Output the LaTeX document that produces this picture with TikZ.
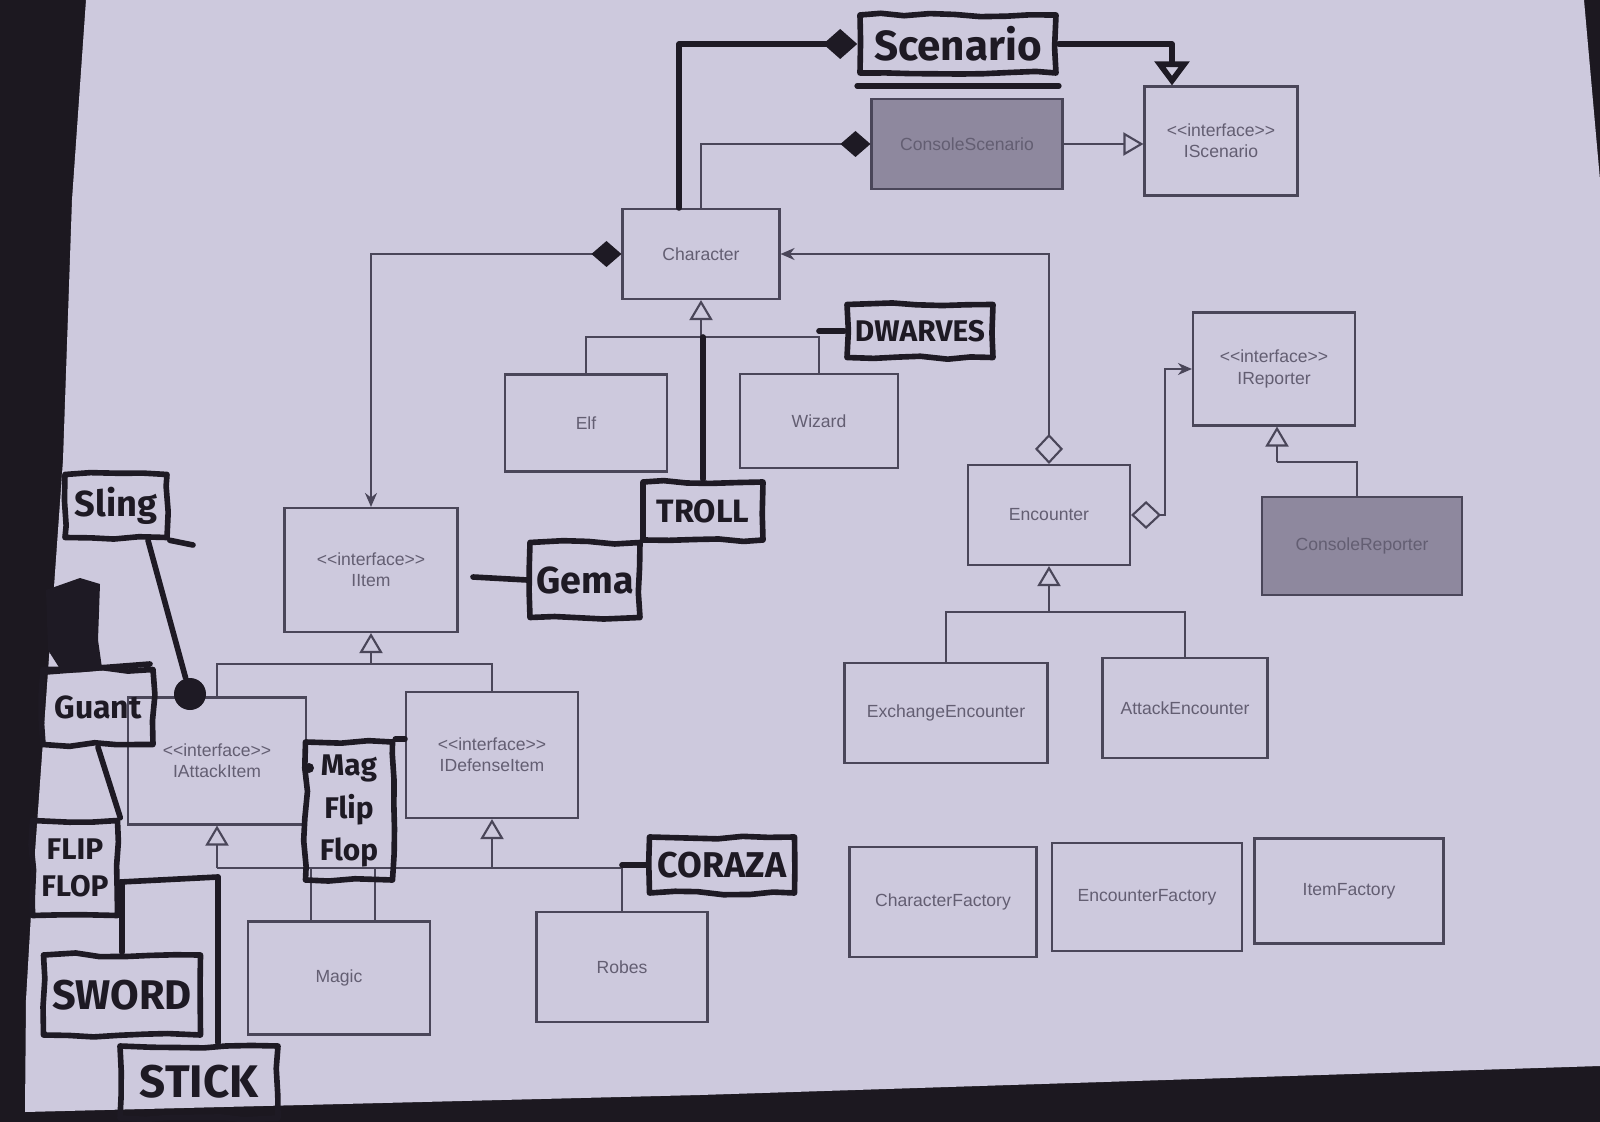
\documentclass[tikz,border=0pt]{standalone}
\usepackage{fontspec}
\setmainfont{Liberation Sans}
\newfontfamily\handfont{Fira Sans}
\usetikzlibrary{arrows.meta}
\usetikzlibrary{decorations.pathmorphing}

\definecolor{desk}{HTML}{1C1820}
\definecolor{paper}{HTML}{CDC9DD}
\definecolor{boxline}{HTML}{4A4659}
\definecolor{typed}{HTML}{635E72}
\definecolor{consolefill}{HTML}{8E889E}
\definecolor{inkcol}{HTML}{1E1A24}

\tikzset{
  umlbox/.style={draw=boxline, line width=0.6pt, text=typed, inner sep=0pt,
    align=center, font=\fontsize{5}{6}\selectfont},
  inkbox/.style={draw=inkcol, line width=1.6pt, text=inkcol, inner sep=0pt,
    align=center, line join=round, decorate,
    decoration={random steps, segment length=2.5mm, amplitude=0.2mm}},
  handtext/.style={font=\handfont\bfseries\fontsize{#1}{#1}\selectfont},
  inkline/.style={draw=inkcol, line width=1.6pt, line cap=round, line join=round},
  inkdot/.style={circle, fill=inkcol, inner sep=0pt},
  umlline/.style={draw=boxline, line width=0.6pt},
  generalization/.style={umlline, -{Triangle[open, length=2mm, width=2.3mm]}},
  composition/.style={umlline, {Diamond[length=3mm, width=2.6mm, color=inkcol]}-},
  compositionnav/.style={umlline, {Diamond[length=3mm, width=2.6mm, color=inkcol]}-{Stealth[length=1.4mm, width=1.2mm]}},
  aggregationnav/.style={umlline, {Diamond[open, length=3mm, width=2.8mm]}-{Stealth[length=1.4mm, width=1.2mm]}},
}

\begin{document}
\pgfmathsetseed{11}
\begin{tikzpicture}[x=0.1mm, y=-0.1mm]
    % photo: desk and sheet
    \useasboundingbox (0,0) rectangle (1600,1122);
    \fill[desk] (0,0) rectangle (1600,1122);
    \fill[paper] (86,0) -- (1584,0) -- (1600,180) -- (1600,1066) -- (700,1095)
      -- (25,1112) -- (26,1000) -- (33,880) -- (46,700) -- (63,460) -- (72,200) -- cycle;

    % printed classes
    \node[umlbox, minimum width=19.1mm, minimum height=9mm, fill=consolefill] (consolescenario) at (967,144) {ConsoleScenario};
    \node[umlbox, minimum width=15.3mm, minimum height=10.9mm] (iscenario) at (1221,141) {{<}{<}interface{>}{>}\\IScenario};
    \node[umlbox, minimum width=15.7mm, minimum height=9mm] (character) at (701,254) {Character};
    \node[umlbox, minimum width=16.2mm, minimum height=9.7mm] (elf) at (586,423) {Elf};
    \node[umlbox, minimum width=15.8mm, minimum height=9.4mm] (wizard) at (819,421) {Wizard};
    \node[umlbox, minimum width=17.3mm, minimum height=12.4mm] (iitem) at (371,570) {{<}{<}interface{>}{>}\\IItem};
    \node[umlbox, minimum width=17.8mm, minimum height=12.7mm] (iattackitem) at (217,761) {{<}{<}interface{>}{>}\\IAttackItem};
    \node[umlbox, minimum width=17.2mm, minimum height=12.6mm] (idefenseitem) at (492,755) {{<}{<}interface{>}{>}\\IDefenseItem};
    \node[umlbox, minimum width=18.2mm, minimum height=11.3mm] (magic) at (339,978) {Magic};
    \node[umlbox, minimum width=17.1mm, minimum height=11mm] (robes) at (622,967) {Robes};
    \node[umlbox, minimum width=16.2mm, minimum height=10mm] (encounter) at (1049,515) {Encounter};
    \node[umlbox, minimum width=16.2mm, minimum height=11.3mm] (ireporter) at (1274,369) {{<}{<}interface{>}{>}\\IReporter};
    \node[umlbox, minimum width=20mm, minimum height=9.8mm, fill=consolefill] (consolereporter) at (1362,546) {ConsoleReporter};
    \node[umlbox, minimum width=20.3mm, minimum height=10mm] (exchangeencounter) at (946,713) {ExchangeEncounter};
    \node[umlbox, minimum width=16.5mm, minimum height=10mm] (attackencounter) at (1185,708) {AttackEncounter};
    \node[umlbox, minimum width=18.7mm, minimum height=11mm] (characterfactory) at (943,902) {CharacterFactory};
    \node[umlbox, minimum width=19mm, minimum height=10.8mm] (encounterfactory) at (1147,897) {EncounterFactory};
    \node[umlbox, minimum width=18.9mm, minimum height=10.5mm] (itemfactory) at (1349,891) {ItemFactory};

    % join points
    \coordinate (charjoin) at (701,337);
    \coordinate (itemjoin) at (371,664);
    \coordinate (encjoin) at (1049,612);
    \coordinate (reportjoin) at (1277,462);
    \coordinate (itembase) at (217,868);

    % printed connectors
    \draw[composition] (consolescenario.west) -| (character.north);
    \draw[generalization] (consolescenario.east) -- (consolescenario.east -| iscenario.west);
    \draw[compositionnav] (character.west) -| (iitem.north);
    \draw[aggregationnav] (encounter.north) |- (character.east);
    \draw[aggregationnav] (encounter.east) -- ++(34,0) |- (ireporter.west);
    \draw[umlline] ([xshift=-0.5mm]consolereporter.north) |- (reportjoin);
    \draw[generalization] (reportjoin) -- (reportjoin |- ireporter.south);
    \draw[umlline] (elf.north) |- (charjoin) -| (wizard.north);
    \draw[generalization] (charjoin) -- (character.south);
    \draw[umlline] (exchangeencounter.north) |- (encjoin) -| (attackencounter.north);
    \draw[generalization] (encjoin) -- (encounter.south);
    \draw[umlline] (iattackitem.north) |- (itemjoin) -| (idefenseitem.north);
    \draw[generalization] (itemjoin) -- (iitem.south);
    \draw[umlline] (itembase) -- (itembase -| robes.north) -- (robes.north);
    \draw[generalization] (itembase) -- (iattackitem.south);
    \draw[generalization] (itembase -| idefenseitem.south) -- (idefenseitem.south);
    \draw[umlline] ([xshift=-2.8mm]magic.north) -- ([xshift=-2.8mm]magic.north |- itembase);
    \draw[umlline] ([xshift=3.6mm]magic.north) -- ([xshift=3.6mm]magic.north |- itembase);

    % handwritten notes
    \node[inkbox, handtext=12, minimum width=19.6mm, minimum height=5.8mm] (scenario) at (958,44) {Scenario};
    \node[inkbox, handtext=8.5, minimum width=14.6mm, minimum height=5.3mm] (dwarves) at (920,331) {DWARVES};
    \node[inkbox, handtext=9.2, minimum width=12mm, minimum height=5.8mm] (troll) at (703,511) {TROLL};
    \node[inkbox, handtext=10.7, minimum width=11mm, minimum height=7.5mm] (gema) at (585,580) {Gema};
    \node[inkbox, handtext=10.3, minimum width=10.2mm, minimum height=6.3mm] (sling) at (116,506) {Sling};
    \node[inkbox, handtext=9.1, minimum width=11mm, minimum height=7.5mm] (guant) at (98,707) {Guant};
    \node[inkbox, font=\handfont\bfseries\fontsize{8.5}{10.5}\selectfont, minimum width=8.5mm, minimum height=9.5mm] (flipflop) at (75,868) {FLIP\\FLOP};
    \node[inkbox, handtext=11.8, minimum width=15.7mm, minimum height=8mm] (sword) at (122,995) {SWORD};
    \node[inkbox, handtext=13, minimum width=15.8mm, minimum height=7.2mm] (stick) at (199,1082) {STICK};
    \node[inkbox, font=\handfont\bfseries\fontsize{8.5}{12}\selectfont, minimum width=8.7mm, minimum height=13.8mm] (magflipflop) at (349,811) {Mag\\Flip\\Flop};
    \node[inkbox, handtext=10.2, minimum width=14.5mm, minimum height=5.6mm] (coraza) at (722,865) {CORAZA};
    \node[inkdot, minimum size=3.2mm] (slingdot) at (190,694) {};
    \node[inkdot, minimum size=1mm] (magdot) at (309,768) {};
    \coordinate (gemaend) at (473,577);
    \coordinate (slingtail) at (193,545);
    \coordinate (swordjoin) at (122,882);
    \coordinate (inkjoin) at (218,877);

    % blacked-out note
    \fill[inkcol] (46,590) -- (80,578) -- (100,584) -- (98,640) -- (102,668) -- (62,672) -- (48,650) -- cycle;
    \draw[inkline] (46,672) -- (150,664);

    % handwritten connectors
    \draw[inkline, {Diamond[length=3.4mm, width=3mm]}-] (scenario.west) -| ([xshift=-2.2mm]character.north);
    \draw[inkline, -{Triangle[open, length=2.4mm, width=3.4mm]}] (scenario.east) -| ([xshift=-4.9mm]iscenario.north);
    \draw[inkline] ([yshift=-1mm]scenario.south west) -- ([yshift=-1mm]scenario.south east);
    \draw[inkline] (troll.north) -- (troll.north |- charjoin);
    \draw[inkline] (dwarves.west) -- (dwarves.west -| wizard.north);
    \draw[inkline] (gema.west) -- (gemaend);
    \draw[inkline] ([xshift=3.2mm]sling.south) -- (slingdot);
    \draw[inkline] (sling.south east) -- (slingtail);
    \draw[inkline] (guant.south) -- (flipflop.north east);
    \draw[inkline] ([yshift=-1.4mm]flipflop.east) -- (inkjoin);
    \draw[inkline] (sword.north) -- (swordjoin);
    \draw[inkline] ([xshift=1.9mm]stick.north) -- (inkjoin);
    \draw[inkline] (coraza.west) -- (coraza.west -| robes.north);
    \draw[inkline] (magflipflop.north east) -- (magflipflop.north east -| idefenseitem.west);
\end{tikzpicture}
\end{document}
